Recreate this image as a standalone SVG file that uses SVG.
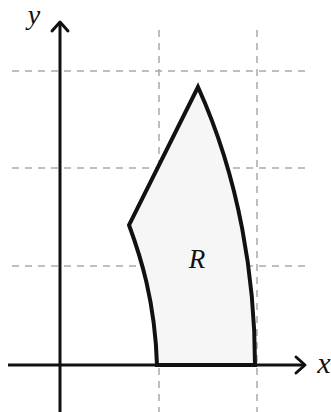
<svg xmlns="http://www.w3.org/2000/svg" width="331" height="412" viewBox="0 0 331 412">
<style>
.grid{stroke:#aaa;stroke-width:1.5;stroke-dasharray:7 6;fill:none}
.axis{stroke:#111;stroke-width:3;fill:none}
.head{stroke:#111;stroke-width:3;fill:none;stroke-linecap:round;stroke-linejoin:round}
.lbl{font-family:"Liberation Serif","DejaVu Serif",serif;font-style:italic;fill:#111}
</style>
<rect width="331" height="412" fill="#fff"/>
<g id="grid">
<line class="grid" x1="12" y1="71" x2="308" y2="71"/>
<line class="grid" x1="12" y1="168" x2="308" y2="168"/>
<line class="grid" x1="12" y1="266" x2="308" y2="266"/>
<line class="grid" x1="159" y1="30" x2="159" y2="412"/>
<line class="grid" x1="257" y1="30" x2="257" y2="412"/>
</g>
<g id="region">
<path d="M157,365 L255,365 C255,280 240,180 198,87 L129,225 C140,255 155,300 157,365 Z" fill="#f6f6f6" stroke="#111" stroke-width="4" stroke-linejoin="miter"/>
<text class="lbl" x="197" y="268" font-size="27" text-anchor="middle">R</text>
</g>
<g id="axes">
<line class="axis" x1="8" y1="365" x2="304" y2="365"/>
<path class="head" d="M296,357 L305,365 L296,373"/>
<line class="axis" x1="60" y1="412" x2="60" y2="23"/>
<path class="head" d="M52,31 L60,22 L68,31"/>
<text class="lbl" x="34" y="24" font-size="28" text-anchor="middle">y</text>
<text class="lbl" x="324" y="373" font-size="30" text-anchor="middle">x</text>
</g>
</svg>
